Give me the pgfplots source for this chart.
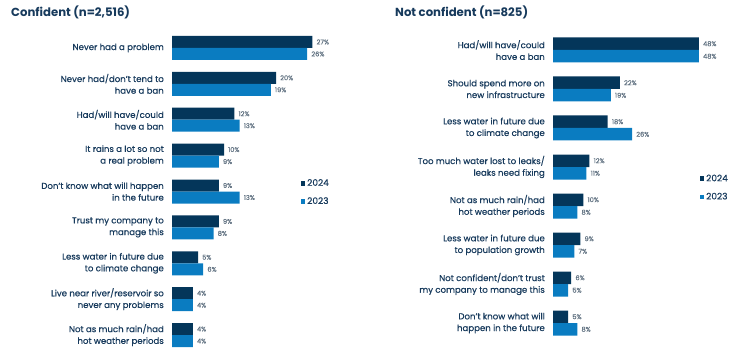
\documentclass[border=0pt]{standalone}
\usepackage{pgfplots}
\pgfplotsset{compat=1.18}
\usepackage{pgfplotstable}
\usepackage{fontspec}
\setmainfont{Poppins}
\newfontfamily\labelfont{Poppins}[FakeBold=0.5]
\newfontfamily\valfont{Poppins}[FakeBold=0.3]
\definecolor{navy}{HTML}{04365A}
\definecolor{blue23}{HTML}{0A7CC1}
\definecolor{txt}{HTML}{173A5C}
\definecolor{vgray}{HTML}{5F7080}

\pgfplotstableread{
y v24 v23
8 27 26
7 20 19
6 12 13
5 10 9
4 9 13
3 9 8
2 5 6
1 4 4
0 4 4
}\lefttab

\pgfplotstableread{
y v24 v23
7 48 48
6 22 19
5 18 26
4 12 11
3 10 8
2 9 7
1 6 5
0 5 8
}\righttab

\pgfplotsset{
  panel/.style={
    xbar, scale only axis,
    axis line style={draw=none},
    xmin=0,
    xtick=\empty,
    ytick={0,...,8},
    major tick length=0pt,
    tick style={draw=none},
    /pgf/number format/assume math mode=true,
    yticklabel style={align=right, inner sep=0pt, xshift=-8pt, text=txt,
      font=\labelfont\fontsize{8.6}{11.7}\selectfont},
    nodes near coords={\pgfmathprintnumber{\pgfplotspointmeta}\%},
    point meta=x,
    nodes near coords style={font=\valfont\fontsize{6.6}{7}\selectfont, text=vgray, anchor=west, inner sep=0pt, xshift=4pt},
    legend cell align=left,
    legend image code/.code={\fill[##1] (0pt,-2.3pt) rectangle (4pt,2.3pt);},
    legend style={draw=none, fill=none, inner sep=0pt, row sep=6pt,
      font=\labelfont\fontsize{9}{10}\selectfont, text=txt,
      /tikz/every even column/.append style={column sep=1pt}},
    clip=false,
  },
}

\begin{document}
\begin{tikzpicture}[x=1pt,y=1pt]
\useasboundingbox (0,0) rectangle (738,351);

\node[anchor=west, inner sep=0pt, text=txt, font=\fontsize{11.7}{14}\selectfont\bfseries] at (11,339) {Confident (n=2,516)};
\node[anchor=west, inner sep=0pt, text=txt, font=\fontsize{11.7}{14}\selectfont\bfseries] at (395,339) {Not confident (n=825)};

\begin{axis}[panel,
  at={(172pt,-2pt)}, anchor=south west,
  width=156pt, height=323pt,
  xmax=30, ymin=-0.5, ymax=8.5,
  bar width=12pt,
  yticklabels={{Not as much rain/had\\hot weather periods},
    {Live near river/reservoir so\\never any problems},
    {Less water in future due\\to climate change},
    {Trust my company to\\manage this},
    {Don’t know what will happen\\in the future},
    {It rains a lot so not\\a real problem},
    {Had/will have/could\\have a ban},
    {Never had/don’t tend to\\have a ban},
    {Never had a problem}},
  legend style={at={(axis description cs:0.827,0.545)}, anchor=north west},
]
\addplot[fill=navy, draw=none, bar shift=6pt] table[x=v24, y=y] {\lefttab};
\addplot[fill=blue23, draw=none, bar shift=-6pt] table[x=v23, y=y] {\lefttab};
\legend{2024,2023}
\end{axis}

\begin{axis}[panel,
  at={(553pt,8.5pt)}, anchor=south west,
  width=152pt, height=312pt,
  xmax=50, ymin=-0.5, ymax=7.5,
  ytick={0,...,7},
  bar width=12.5pt,
  yticklabels={{Don’t know what will\\happen in the future},
    {Not confident/don’t trust\\my company to manage this},
    {Less water in future due\\to population growth},
    {Not as much rain/had\\hot weather periods},
    {Too much water lost to leaks/\\leaks need fixing},
    {Less water in future due\\to climate change},
    {Should spend more on\\new infrastructure},
    {Had/will have/could\\have a ban}},
  legend style={at={(axis description cs:0.967,0.545)}, anchor=north west},
]
\addplot[fill=navy, draw=none, bar shift=6.25pt] table[x=v24, y=y] {\righttab};
\addplot[fill=blue23, draw=none, bar shift=-6.25pt] table[x=v23, y=y] {\righttab};
\legend{2024,2023}
\end{axis}
\end{tikzpicture}
\end{document}
